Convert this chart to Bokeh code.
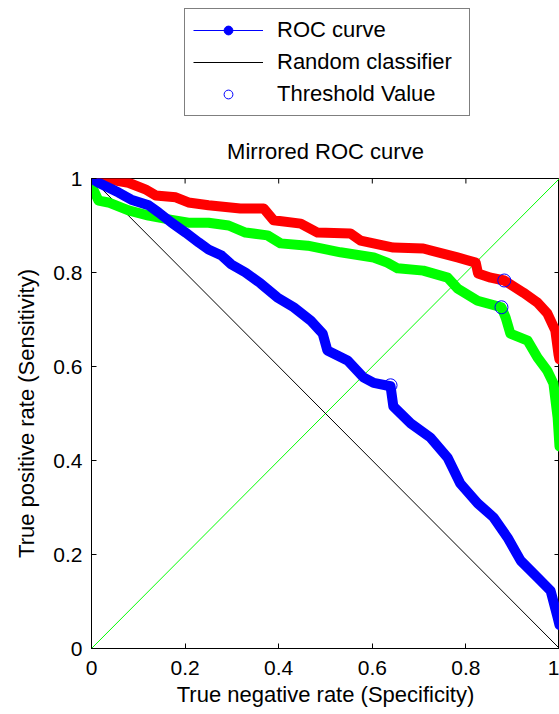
from bokeh.plotting import figure
from bokeh.layouts import column
from bokeh.models import Range1d, FixedTicker, Legend, LegendItem
from bokeh.embed import file_html
from bokeh.resources import INLINE

FONT = "Liberation Sans"
TEXT_SIZE = "22px"
TICK_SIZE = "21px"

# axis ticks
tick_values = [0, 0.2, 0.4, 0.6, 0.8, 1]
tick_labels = ["0", "0.2", "0.4", "0.6", "0.8", "1"]

# mirrored ROC curves: specificity (x) vs sensitivity (y)
red_spec = [0.0, 0.036, 0.079, 0.115, 0.137, 0.18, 0.207, 0.25, 0.318, 0.368,
            0.389, 0.447, 0.483, 0.553, 0.575, 0.645, 0.709, 0.782, 0.821, 0.826,
            0.853, 0.882, 0.923, 0.953, 0.974, 0.991, 0.998, 1.0]
red_sens = [1.0, 0.998, 0.991, 0.977, 0.964, 0.96, 0.949, 0.943, 0.936, 0.936,
            0.911, 0.904, 0.885, 0.883, 0.868, 0.853, 0.851, 0.832, 0.821, 0.798,
            0.789, 0.783, 0.757, 0.736, 0.713, 0.677, 0.625, 0.615]

green_spec = [0.0, 0.015, 0.036, 0.079, 0.122, 0.165, 0.207, 0.25, 0.293, 0.329,
              0.376, 0.404, 0.462, 0.532, 0.603, 0.632, 0.654, 0.709, 0.761, 0.782,
              0.825, 0.876, 0.885, 0.895, 0.932, 0.953, 0.974, 0.987, 0.996, 1.0]
green_sens = [0.985, 0.953, 0.949, 0.932, 0.921, 0.913, 0.906, 0.906, 0.9, 0.885,
              0.879, 0.862, 0.857, 0.843, 0.832, 0.821, 0.809, 0.804, 0.789, 0.766,
              0.74, 0.726, 0.704, 0.67, 0.655, 0.619, 0.591, 0.564, 0.491, 0.43]

blue_spec = [0.0, 0.015, 0.058, 0.085, 0.122, 0.143, 0.171, 0.201, 0.229, 0.25,
             0.278, 0.299, 0.329, 0.361, 0.397, 0.432, 0.468, 0.494, 0.504, 0.547,
             0.581, 0.603, 0.639, 0.645, 0.682, 0.724, 0.761, 0.788, 0.825, 0.859,
             0.889, 0.917, 0.953, 0.981, 0.996, 1.0]
blue_sens = [1.0, 0.991, 0.97, 0.955, 0.943, 0.928, 0.906, 0.885, 0.864, 0.849,
             0.836, 0.817, 0.8, 0.777, 0.747, 0.726, 0.698, 0.67, 0.634, 0.613,
             0.577, 0.565, 0.558, 0.515, 0.479, 0.449, 0.406, 0.351, 0.309, 0.279,
             0.236, 0.187, 0.151, 0.123, 0.066, 0.05]

# chosen operating points on each curve
threshold_spec = [0.882, 0.876, 0.639]
threshold_sens = [0.783, 0.726, 0.56]

# reference diagonals
random_x = [0, 1]
random_y = [1, 0]
identity_x = [0, 1]
identity_y = [0, 1]

# ---- layout sizes (pixels) ----
WIDTH = 559
LEGEND_H = 120
MAIN_H = 714 - LEGEND_H
BORDER_LEFT, BORDER_TOP, BORDER_BOTTOM = 91, 58, 66
FRAME_W = WIDTH - BORDER_LEFT
FRAME_H = MAIN_H - BORDER_TOP - BORDER_BOTTOM
TICK_PX = 5

p = figure(width=WIDTH, height=MAIN_H, x_range=Range1d(0, 1), y_range=Range1d(0, 1),
           output_backend="svg", toolbar_location=None,
           min_border_left=BORDER_LEFT, min_border_right=0,
           min_border_top=BORDER_TOP, min_border_bottom=BORDER_BOTTOM,
           background_fill_color="white", border_fill_color="white")
p.outline_line_color = "black"
p.xgrid.visible = False
p.ygrid.visible = False

p.title.text = "Mirrored ROC curve"
p.title.align = "center"
p.title.text_font = FONT
p.title.text_font_size = TEXT_SIZE
p.title.text_font_style = "normal"
p.title.text_color = "black"
p.title.standoff = 29

overrides = dict(zip(tick_values, tick_labels))
for ax in (p.xaxis[0], p.yaxis[0]):
    ax.ticker = FixedTicker(ticks=tick_values)
    ax.major_label_overrides = overrides
    ax.axis_line_color = "black"
    ax.major_tick_line_color = "black"
    ax.major_tick_in = TICK_PX
    ax.major_tick_out = 0
    ax.minor_tick_line_color = None
    ax.major_label_text_font = FONT
    ax.major_label_text_font_size = TICK_SIZE
    ax.major_label_text_color = "black"
    ax.axis_label_text_font = FONT
    ax.axis_label_text_font_size = TEXT_SIZE
    ax.axis_label_text_font_style = "normal"
    ax.axis_label_text_color = "black"

p.xaxis[0].axis_label = "True negative rate (Specificity)"
p.yaxis[0].axis_label = "True positive rate (Sensitivity)"
p.xaxis[0].major_label_standoff = 12
p.xaxis[0].axis_label_standoff = 4
p.yaxis[0].major_label_standoff = 9
p.yaxis[0].axis_label_standoff = 11

# inward ticks along the top and right edges of the box
top_len = TICK_PX / FRAME_H
right_len = TICK_PX / FRAME_W
p.segment(x0=tick_values, y0=[1] * len(tick_values), x1=tick_values,
          y1=[1 - top_len] * len(tick_values), line_color="black", line_width=1)
p.segment(x0=[1] * len(tick_values), y0=tick_values, x1=[1 - right_len] * len(tick_values),
          y1=tick_values, line_color="black", line_width=1)

# diagonals
p.line(identity_x, identity_y, line_color="#00FF00", line_width=1)
p.line(random_x, random_y, line_color="black", line_width=1)

# ROC curves
for xs, ys, col in [(red_spec, red_sens, "#FF0000"),
                    (green_spec, green_sens, "#00FF00"),
                    (blue_spec, blue_sens, "#0000FF")]:
    p.line(xs, ys, line_color=col, line_width=10, line_join="round", line_cap="round")

p.scatter(threshold_spec, threshold_sens, marker="circle", size=13,
          line_color="#0000FF", line_width=1, fill_color=None)

# ---- legend strip above the axes ----
leg = figure(width=WIDTH, height=LEGEND_H, x_range=Range1d(0, 1), y_range=Range1d(0, 1),
             output_backend="svg", toolbar_location=None,
             x_axis_location=None, y_axis_location=None, min_border=0,
             background_fill_color="white", border_fill_color="white")
leg.outline_line_color = None
leg.xgrid.visible = False
leg.ygrid.visible = False

nan = float("nan")
roc_line = leg.line([nan], [nan], line_color="#0000FF", line_width=1)
roc_dot = leg.scatter([nan], [nan], marker="circle", size=7,
                      fill_color="#0000FF", line_color="#0000FF")
rand_line = leg.line([nan], [nan], line_color="black", line_width=1)
thr_mark = leg.scatter([nan], [nan], marker="circle", size=10,
                       line_color="#0000FF", line_width=1, fill_color=None)

# the column aligns this strip's frame with the axes frame, so offsets are frame-relative
legend = Legend(items=[
    LegendItem(label="ROC curve", renderers=[roc_line, roc_dot]),
    LegendItem(label="Random classifier", renderers=[rand_line]),
    LegendItem(label="Threshold Value", renderers=[thr_mark]),
], location=(184 - BORDER_LEFT, LEGEND_H - 116), orientation="vertical",
    glyph_width=70, glyph_height=22, label_height=22, spacing=6, padding=8,
    label_standoff=14, label_width=184, margin=0,
    border_line_color="black", border_line_width=1,
    background_fill_color="white", background_fill_alpha=1.0,
    label_text_font=FONT, label_text_font_size=TEXT_SIZE, label_text_color="black")
leg.add_layout(legend, "center")

layout = column(leg, p, spacing=0)
open("out.html", "w").write(file_html(layout, INLINE))
